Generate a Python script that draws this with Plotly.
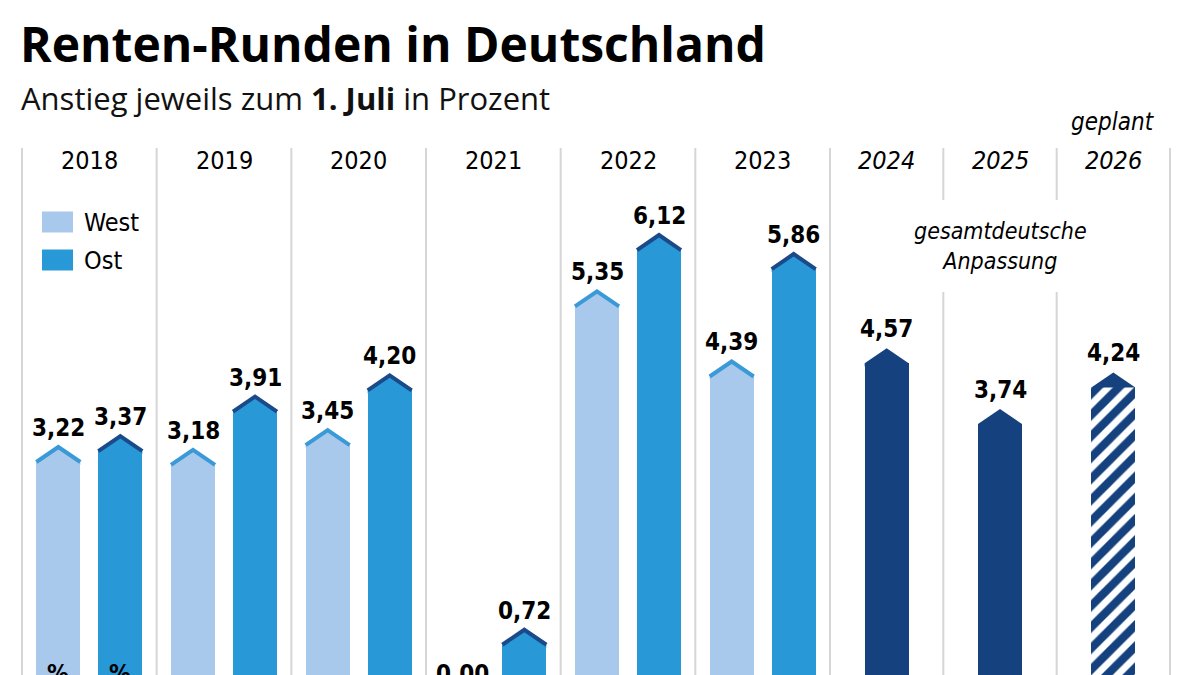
import plotly.graph_objects as go

years = ['2018', '2019', '2020', '2021', '2022', '2023', '2024', '2025', '2026']
west = [3.22, 3.18, 3.45, 0.00, 5.35, 4.39]
ost = [3.37, 3.91, 4.20, 0.72, 6.12, 5.86]
gesamt = [4.57, 3.74, 4.24]          # 2024-2026, one value for all of Germany
planned = [False, False, True]       # 2026 is only planned

C_WEST = '#a9c9ec'
C_WEST_EDGE = '#3a9ad7'
C_OST = '#2898d6'
C_OST_EDGE = '#1b4a8a'
C_GES = '#15427f'
GRID = '#d6d6d6'
NARROW = 'DejaVu Sans Condensed, Liberation Sans Narrow, sans-serif'
HEAD = 'Open Sans, sans-serif'

W, H = 1200, 675
ZERO_PX = 682.4          # pixel row of the zero line (just under the picture)
PX_PER_UNIT = 73.1
CAP = 15 / PX_PER_UNIT   # height of the arrow tip, in percent units
SEAM = 3 / PX_PER_UNIT   # overlap of tip and body so no seam shows
BAR_W = 44
OFF = 31

# column layout in pixels (x axis runs 0..1200)
left, mid, right = 22, 830, 1170
wide = (mid - left) / len(west)
narrow = (right - mid) / len(gesamt)
edges = [left + i * wide for i in range(len(west) + 1)]
edges += [mid + i * narrow for i in range(1, len(gesamt) + 1)]
centers = [(a + b) / 2 for a, b in zip(edges[:-1], edges[1:])]

west_x = [c - OFF for c in centers[:len(west)]]
ost_x = [c + OFF for c in centers[:len(ost)]]
ges_x = centers[len(west):]


def py(px):
    # pixel row -> paper y
    return 1 - px / H


def fmt(v):
    return f'{v:.2f}'.replace('.', ',')


fig = go.Figure()

# bar bodies up to the shoulder of the arrow
fig.add_trace(go.Bar(x=west_x, y=[max(v - CAP, 0) for v in west], width=BAR_W,
                     marker=dict(color=C_WEST, line_width=0)))
fig.add_trace(go.Bar(x=ost_x, y=[max(v - CAP, 0) for v in ost], width=BAR_W,
                     marker=dict(color=C_OST, line_width=0)))
solid_x = [x for x, p in zip(ges_x, planned) if not p]
solid_y = [v - CAP for v, p in zip(gesamt, planned) if not p]
fig.add_trace(go.Bar(x=solid_x, y=solid_y, width=BAR_W,
                     marker=dict(color=C_GES, line_width=0)))
plan_x = [x for x, p in zip(ges_x, planned) if p]
plan_y = [v - CAP for v, p in zip(gesamt, planned) if p]
fig.add_trace(go.Bar(x=plan_x, y=plan_y, width=BAR_W,
                     marker=dict(color='white', line_width=0,
                                 pattern=dict(shape='/', fgcolor=C_GES, bgcolor='white',
                                              fgopacity=1, size=15, solidity=0.55))))


def add_cap(x, v, fill, edge, seam=True):
    if v <= 0:
        return
    lo = v - CAP - (SEAM if seam else 0)
    fig.add_trace(go.Scatter(
        x=[x - BAR_W / 2, x - BAR_W / 2, x, x + BAR_W / 2, x + BAR_W / 2],
        y=[lo, v - CAP, v, v - CAP, lo],
        mode='lines', fill='toself', fillcolor=fill,
        line=dict(width=0), hoverinfo='skip'))
    if edge:
        fig.add_trace(go.Scatter(
            x=[x - BAR_W / 2, x, x + BAR_W / 2], y=[v - CAP, v, v - CAP],
            mode='lines', line=dict(color=edge, width=4), hoverinfo='skip'))


for x, v in zip(west_x, west):
    add_cap(x, v, C_WEST, C_WEST_EDGE)
for x, v in zip(ost_x, ost):
    add_cap(x, v, C_OST, C_OST_EDGE)
for x, v, p in zip(ges_x, gesamt, planned):
    add_cap(x, v, C_GES, None, seam=not p)

annotations = []
shapes = []
LBL = dict(family=NARROW, size=24, color='black')

# value labels
for xs, vals in ((west_x, west), (ost_x, ost), (ges_x, gesamt)):
    for x, v in zip(xs, vals):
        if v > 0:
            annotations.append(dict(x=x, y=v, xref='x', yref='y', yanchor='bottom', yshift=3,
                                    text=f'<b>{fmt(v)}</b>', showarrow=False, font=LBL))
        else:
            # no bar: the label sits on the (cut off) base line
            annotations.append(dict(x=x, y=py(674), xref='x', yref='paper', yanchor='middle',
                                    text=f'<b>{fmt(v)}</b>', showarrow=False, font=LBL))

# percent signs at the foot of the first pair (cut off by the picture edge)
for x in (west_x[0], ost_x[0]):
    annotations.append(dict(x=x, y=py(674), xref='x', yref='paper', yanchor='middle',
                            text='<b>%</b>', showarrow=False, font=LBL))

# year headers
for i, (c, yr) in enumerate(zip(centers, years)):
    txt = yr if i < len(west) else f'<i>{yr}</i>'
    annotations.append(dict(x=c, y=py(160), xref='x', yref='paper', yanchor='middle',
                            text=txt, showarrow=False,
                            font=dict(family=NARROW, size=25, color='black')))
annotations.append(dict(x=centers[-1], y=py(122), xref='x', yref='paper', yanchor='middle',
                        text='<i>geplant</i>', showarrow=False,
                        font=dict(family=NARROW, size=24, color='black')))
annotations.append(dict(x=centers[len(west) + 1], y=py(246), xref='x', yref='paper',
                        yanchor='middle', text='<i>gesamtdeutsche<br>Anpassung</i>',
                        showarrow=False,
                        font=dict(family=NARROW, size=23, color='black')))

# title and subtitle
annotations.append(dict(x=18 / W, y=py(43), xref='paper', yref='paper', xanchor='left',
                        yanchor='middle', text='<b>Renten-Runden in Deutschland</b>',
                        showarrow=False, font=dict(family=HEAD, size=48, color='black')))
annotations.append(dict(x=19 / W, y=py(98), xref='paper', yref='paper', xanchor='left',
                        yanchor='middle', text='Anstieg jeweils zum <b>1. Juli</b> in Prozent',
                        showarrow=False, font=dict(family=HEAD, size=31, color='#111111')))

# legend
for name, col, row in (('West', C_WEST, 222), ('Ost', C_OST, 260)):
    shapes.append(dict(type='rect', xref='x', yref='paper', x0=42, x1=73,
                       y0=py(row + 10.5), y1=py(row - 10.5), fillcolor=col, line_width=0))
    annotations.append(dict(x=82, y=py(row), xref='x', yref='paper', xanchor='left',
                            yanchor='middle', text=name, showarrow=False,
                            font=dict(family=NARROW, size=25, color='black')))

# column separators
top = 148
for i, e in enumerate(edges):
    if i in (len(west) + 1, len(west) + 2):
        shapes.append(dict(type='line', xref='x', yref='paper', x0=e, x1=e,
                           y0=py(top), y1=py(200), line=dict(color=GRID, width=2), layer='below'))
        shapes.append(dict(type='line', xref='x', yref='paper', x0=e, x1=e,
                           y0=py(292), y1=0, line=dict(color=GRID, width=2), layer='below'))
    else:
        shapes.append(dict(type='line', xref='x', yref='paper', x0=e, x1=e,
                           y0=py(top), y1=0, line=dict(color=GRID, width=2), layer='below'))

fig.update_layout(
    width=W, height=H,
    margin=dict(l=0, r=0, t=0, b=0),
    paper_bgcolor='white', plot_bgcolor='white',
    barmode='overlay', bargap=0,
    showlegend=False,
    xaxis=dict(range=[0, W], visible=False, fixedrange=True),
    yaxis=dict(range=[(ZERO_PX - H) / PX_PER_UNIT, ZERO_PX / PX_PER_UNIT],
               visible=False, fixedrange=True),
    annotations=annotations,
    shapes=shapes,
)

fig.write_html('out.html', config={'displayModeBar': False},
               post_script="document.body.style.margin='0';")
